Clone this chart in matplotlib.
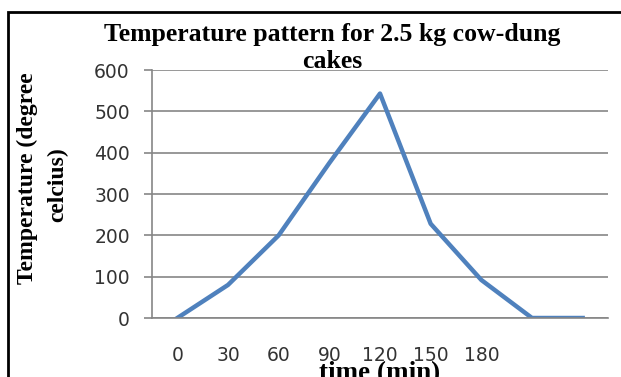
import matplotlib.pyplot as plt
from matplotlib.patches import Rectangle

# data (time in min, temperature in deg C)
categorias = ["0", "30", "60", "90", "120", "150", "180", "210", "240"]
temperaturas = [0, 80, 200, 375, 543, 228, 92, 0, 0]
rotulos_x = ["0", "30", "60", "90", "120", "150", "180"]
ticks_y = [0, 100, 200, 300, 400, 500, 600]

cinza = "#868686"
azul = "#4F81BD"
texto = "#333333"
serifa = "Liberation Serif"

fig = plt.figure(figsize=(6.21, 3.77), dpi=100)
ax = fig.add_axes([152 / 621, 1 - 318 / 377, 456 / 621, 248 / 377])

pos = list(range(len(categorias)))
ax.plot(pos, temperaturas, color=azul, linewidth=3.2, solid_joinstyle="round")

ax.set_xlim(-0.5, len(categorias) - 0.5)
ax.set_ylim(0, 600)
ax.set_yticks(ticks_y)
ax.set_yticklabels([str(v) for v in ticks_y], fontsize=13.5, color=texto,
                   family="DejaVu Sans")
ax.yaxis.grid(True, color=cinza, linewidth=1.2)
ax.set_axisbelow(True)
ax.tick_params(axis="y", length=6, width=1.2, color=cinza, pad=10)

ax.set_xticks(pos[:len(rotulos_x)])
ax.set_xticklabels(rotulos_x, fontsize=13.5, color=texto, family="DejaVu Sans")
ax.tick_params(axis="x", length=0, pad=20)

for lado in ["top", "right"]:
    ax.spines[lado].set_visible(False)
ax.spines["left"].set_color(cinza)
ax.spines["left"].set_linewidth(1.2)
ax.spines["bottom"].set_color(cinza)
ax.spines["bottom"].set_linewidth(1.2)

# titulo em duas linhas
fig.text(332 / 621, 1 - 34 / 377, "Temperature pattern for 2.5 kg cow-dung",
         ha="center", va="center", fontsize=18.5, fontweight="bold", family=serifa)
fig.text(332 / 621, 1 - 61 / 377, "cakes",
         ha="center", va="center", fontsize=18.5, fontweight="bold", family=serifa)

# rotulo do eixo y
fig.text(27 / 621, 1 - 178 / 377, "Temperature (degree", rotation=90,
         ha="center", va="center", fontsize=17, fontweight="bold", family=serifa)
fig.text(58 / 621, 1 - 185 / 377, "celcius)", rotation=90,
         ha="center", va="center", fontsize=17, fontweight="bold", family=serifa)

fig.text(380 / 621, 1 - 361 / 377, "time (min)", ha="center", va="top",
         fontsize=19.5, fontweight="bold", family=serifa)

# moldura preta (cortada na direita e embaixo)
fig.patches.append(Rectangle((8 / 621, -0.1), 1.2, 1 - 12 / 377 + 0.1,
                             transform=fig.transFigure, fill=False,
                             edgecolor="black", linewidth=2, figure=fig))

fig.savefig("out.png", dpi=100)
plt.close(fig)
